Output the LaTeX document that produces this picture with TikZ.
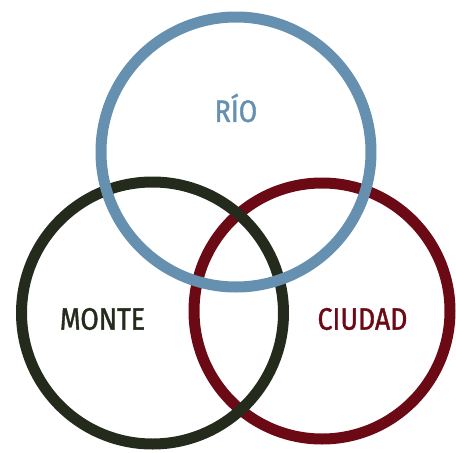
\documentclass[tikz,border=0pt]{standalone}
\usepackage{fontspec}
\setmainfont[FakeStretch=0.86,FakeBold=1.2]{Fira Sans}
\definecolor{rioblue}{RGB}{102,144,176}
\definecolor{montegreen}{RGB}{36,43,28}
\definecolor{ciudadred}{RGB}{107,10,20}
\tikzset{
  ring/.style={line width=11pt},
  label/.style={font=\fontsize{31}{31}\selectfont}
}
\begin{document}
\begin{tikzpicture}[x=1pt,y=-1pt]
  \useasboundingbox (0,0) rectangle (456,453);
  \draw[ring,color=ciudadred] (322,311) circle (128);
  \draw[ring,color=montegreen] (152.5,313) circle (131);
  \draw[ring,color=rioblue] (236,152) circle (135);
  \node[label,color=rioblue] (rio) at (236,108) {RÍO};
  \node[label,color=montegreen] (monte) at (102.5,319) {MONTE};
  \node[label,color=ciudadred] (ciudad) at (362.5,319) {CIUDAD};
\end{tikzpicture}
\end{document}
